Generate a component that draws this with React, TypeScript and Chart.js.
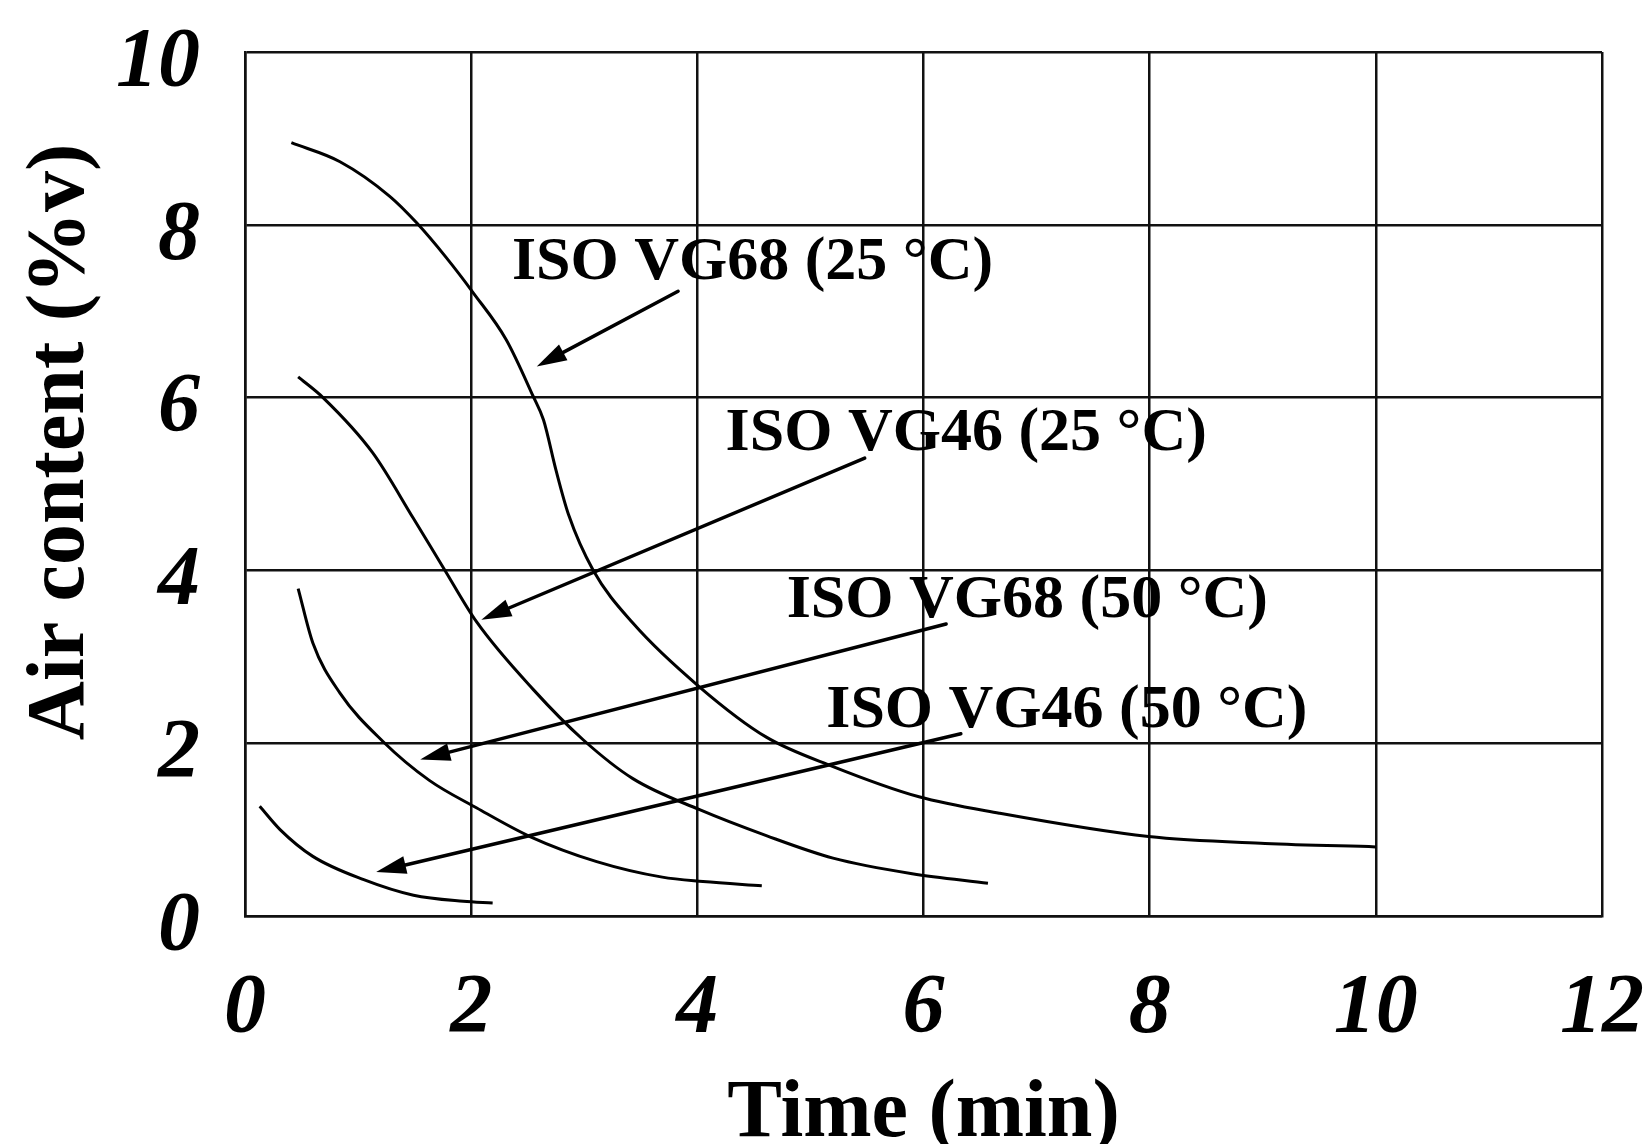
import React, { useEffect, useRef } from "react";
import { Chart, registerables } from "chart.js";

Chart.register(...registerables);

// Axis ticks
const xTicks = [0, 2, 4, 6, 8, 10, 12];
const yTicks = [0, 2, 4, 6, 8, 10];

// Axis titles
const xTitle = "Time (min)";
const yTitle = "Air content (%v)";

// Series
const seriesNames = ["ISO VG68 (25 °C)", "ISO VG46 (25 °C)", "ISO VG68 (50 °C)", "ISO VG46 (50 °C)"];

const vg68_25_time = [0.41, 0.84, 1.28, 1.52, 1.78, 2.02, 2.31, 2.55, 2.64, 2.75, 2.86, 3.08, 3.43, 4.02, 4.61, 5.2, 5.96, 6.67, 7.99, 9.02, 10.0];
const vg68_25_air = [8.95, 8.73, 8.33, 8.02, 7.62, 7.21, 6.67, 6.01, 5.74, 5.16, 4.65, 4.0, 3.39, 2.65, 2.07, 1.73, 1.38, 1.19, 0.92, 0.84, 0.8];

const vg46_25_time = [0.47, 0.69, 1.13, 1.49, 1.75, 2.05, 2.55, 2.99, 3.43, 4.02, 4.61, 5.2, 5.9, 6.57];
const vg46_25_air = [6.24, 6.0, 5.36, 4.6, 4.04, 3.4, 2.62, 2.04, 1.59, 1.23, 0.93, 0.67, 0.49, 0.38];

const vg68_50_time = [0.47, 0.6, 0.84, 1.22, 1.63, 2.05, 2.52, 3.11, 3.69, 4.05, 4.57];
const vg68_50_air = [3.79, 3.16, 2.58, 2.02, 1.57, 1.25, 0.92, 0.63, 0.45, 0.4, 0.35];

const vg46_50_time = [0.13, 0.31, 0.6, 1.05, 1.49, 1.93, 2.19];
const vg46_50_air = [1.27, 1.0, 0.69, 0.42, 0.24, 0.17, 0.15];

// Annotation labels (left/baseline, data units)
const labelX = [2.36, 4.25, 4.79, 5.14];
const labelY = [7.37, 5.39, 3.46, 2.19];

// Annotation arrows (tail -> head, data units)
const arrowFromX = [3.83, 5.48, 6.2, 6.33];
const arrowFromY = [7.23, 5.3, 3.38, 2.11];
const arrowToX = [2.58, 2.09, 1.55, 1.16];
const arrowToY = [6.36, 3.43, 1.81, 0.51];

const FONT = '"Liberation Serif", "Times New Roman", serif';

function toPoints(xs: number[], ys: number[]) {
  return xs.map((x, i) => ({ x, y: ys[i] }));
}

const annotationPlugin = {
  id: "annotations",
  afterDatasetsDraw(chart: any) {
    const { ctx, scales } = chart;
    const xs = scales.x;
    const ys = scales.y;
    ctx.save();
    ctx.fillStyle = "#000";
    ctx.strokeStyle = "#000";
    ctx.font = `bold 62px ${FONT}`;
    ctx.textAlign = "left";
    ctx.textBaseline = "alphabetic";
    seriesNames.forEach((name, i) => {
      ctx.fillText(name, xs.getPixelForValue(labelX[i]), ys.getPixelForValue(labelY[i]));
    });
    ctx.lineWidth = 3.5;
    ctx.lineCap = "round";
    for (let i = 0; i < arrowFromX.length; i++) {
      const x1 = xs.getPixelForValue(arrowFromX[i]);
      const y1 = ys.getPixelForValue(arrowFromY[i]);
      const x2 = xs.getPixelForValue(arrowToX[i]);
      const y2 = ys.getPixelForValue(arrowToY[i]);
      const ang = Math.atan2(y2 - y1, x2 - x1);
      const hl = 30;
      const hw = 9;
      const bx = x2 - hl * Math.cos(ang);
      const by = y2 - hl * Math.sin(ang);
      ctx.beginPath();
      ctx.moveTo(x1, y1);
      ctx.lineTo(bx, by);
      ctx.stroke();
      ctx.beginPath();
      ctx.moveTo(x2, y2);
      ctx.lineTo(bx + hw * Math.sin(ang), by - hw * Math.cos(ang));
      ctx.lineTo(bx - hw * Math.sin(ang), by + hw * Math.cos(ang));
      ctx.closePath();
      ctx.fill();
    }
    ctx.restore();
  },
  afterDraw(chart: any) {
    const { ctx } = chart;
    ctx.save();
    ctx.fillStyle = "#000";
    ctx.font = `bold 82px ${FONT}`;
    ctx.textAlign = "center";
    ctx.textBaseline = "alphabetic";
    ctx.translate(83, 442);
    ctx.rotate(-Math.PI / 2);
    ctx.fillText(yTitle, 0, 0);
    ctx.restore();
  },
};

export default function App() {
  const ref = useRef<HTMLCanvasElement>(null);
  useEffect(() => {
    if (!ref.current) return;
    const lineStyle = {
      showLine: true,
      borderColor: "#000",
      borderWidth: 3,
      pointRadius: 0,
      pointHoverRadius: 0,
      fill: false,
      cubicInterpolationMode: "monotone" as const,
    };
    const chart = new Chart(ref.current, {
      type: "scatter",
      data: {
        datasets: [
          { label: seriesNames[0], data: toPoints(vg68_25_time, vg68_25_air), ...lineStyle },
          { label: seriesNames[1], data: toPoints(vg46_25_time, vg46_25_air), ...lineStyle },
          { label: seriesNames[2], data: toPoints(vg68_50_time, vg68_50_air), ...lineStyle },
          { label: seriesNames[3], data: toPoints(vg46_50_time, vg46_50_air), ...lineStyle },
        ],
      },
      options: {
        animation: false,
        responsive: true,
        maintainAspectRatio: false,
        layout: { padding: { left: 0, right: 47, top: 52, bottom: 0 } },
        plugins: {
          legend: { display: false },
          tooltip: { enabled: false },
        },
        scales: {
          x: {
            type: "linear",
            min: 0,
            max: 12,
            afterBuildTicks: (s: any) => {
              s.ticks = xTicks.map((v) => ({ value: v }));
            },
            afterFit: (s: any) => {
              s.height = 228;
              s.paddingLeft = 0;
              s.paddingRight = 0;
              s.paddingTop = 0;
              s.paddingBottom = 0;
            },
            grid: { color: "#111", lineWidth: 2.5, drawTicks: false },
            border: { display: true, color: "#111", width: 2.5 },
            ticks: {
              padding: 44,
              color: "#000",
              maxRotation: 0,
              autoSkip: false,
              font: { family: FONT, size: 84, style: "italic", weight: "bold" },
            },
            title: {
              display: true,
              text: xTitle,
              color: "#000",
              padding: { top: 0, bottom: 0 },
              font: { family: FONT, size: 82, weight: "bold", lineHeight: 0.7 },
            },
          },
          y: {
            type: "linear",
            min: 0,
            max: 10,
            afterBuildTicks: (s: any) => {
              s.ticks = yTicks.map((v) => ({ value: v }));
            },
            afterFit: (s: any) => {
              s.width = 245;
              s.paddingLeft = 0;
              s.paddingRight = 0;
              s.paddingTop = 0;
              s.paddingBottom = 0;
            },
            grid: { color: "#111", lineWidth: 2.5, drawTicks: false },
            border: { display: true, color: "#111", width: 2.5 },
            ticks: {
              padding: 45,
              labelOffset: 12,
              color: "#000",
              autoSkip: false,
              font: { family: FONT, size: 84, style: "italic", weight: "bold", lineHeight: 1.0 },
            },
          },
        },
      },
      plugins: [annotationPlugin],
    } as any);
    return () => chart.destroy();
  }, []);
  return (
    <div style={{ position: "absolute", left: 0, top: 0, width: "1649px", height: "1144px", background: "#fff" }}>
      <canvas ref={ref} />
    </div>
  );
}
